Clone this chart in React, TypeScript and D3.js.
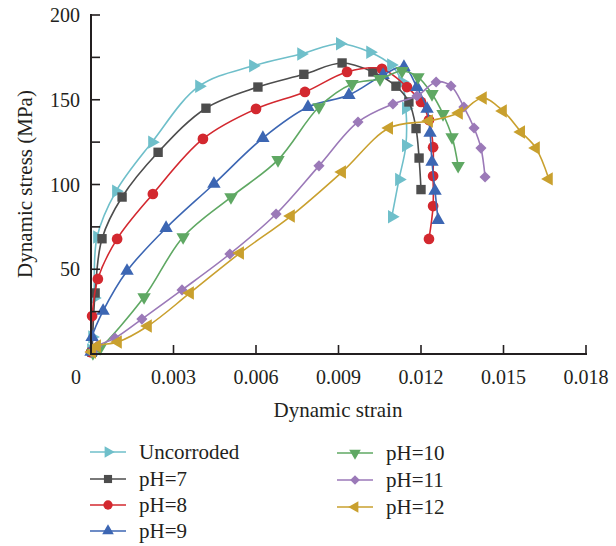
import React from "react";
import * as d3 from "d3";

const seriesNames = ["Uncorroded", "pH=7", "pH=8", "pH=9", "pH=10", "pH=11", "pH=12"];
const seriesColors = ["#6fbfca", "#4d4d4d", "#d3282f", "#3c66b3", "#5fa863", "#9b79b8", "#c9a02e"];

const uncorrodedX = [0, 0.00004, 0.00011, 0.00022, 0.00091, 0.00222, 0.00393, 0.00589, 0.00764, 0.00905, 0.01015, 0.01091, 0.01131, 0.01145, 0.01145, 0.0112, 0.01094];
const uncorrodedY = [2.4, 10, 33, 69, 96, 125, 158, 170, 177, 183, 178, 170.5, 160.5, 145, 123, 103, 81];

const ph7X = [0.00004, 0.00015, 0.0004, 0.00113, 0.00244, 0.00418, 0.00607, 0.00774, 0.00913, 0.01025, 0.01109, 0.01156, 0.01182, 0.01193, 0.012];
const ph7Y = [1, 36, 68, 92.6, 119, 145, 157.5, 165, 171.7, 166.4, 158, 148.7, 133, 115.6, 97];

const ph8X = [0, 0.00004, 0.00025, 0.00095, 0.00225, 0.00407, 0.006, 0.00778, 0.00931, 0.01058, 0.01149, 0.012, 0.01229, 0.01244, 0.01244, 0.01244, 0.01229];
const ph8Y = [1, 22.4, 44.3, 67.9, 94.4, 126.9, 144.6, 154.6, 166.4, 168.2, 157.5, 148.7, 138, 122, 105, 87.3, 67.9];

const ph9X = [0, 0.00004, 0.00044, 0.00131, 0.00273, 0.00447, 0.00625, 0.00789, 0.00938, 0.01062, 0.01138, 0.01185, 0.01222, 0.01233, 0.0124, 0.01251, 0.01262];
const ph9Y = [1.2, 10, 25.4, 49, 74.3, 100.3, 127.4, 145.7, 152.8, 164.6, 169.3, 157.5, 144.6, 130.4, 113.3, 96.2, 79];

const ph10X = [0.00007, 0.00033, 0.00193, 0.00335, 0.00509, 0.0068, 0.00829, 0.00949, 0.01051, 0.01131, 0.01189, 0.0124, 0.0128, 0.01313, 0.01335];
const ph10Y = [0.6, 3.5, 33.6, 69, 92.6, 114.5, 145.7, 159.3, 162.3, 167, 163.4, 153.4, 141.6, 128, 111];

const ph11X = [0.00004, 0.00022, 0.00087, 0.00185, 0.00331, 0.00505, 0.00673, 0.00829, 0.00971, 0.01098, 0.01185, 0.01255, 0.01309, 0.01356, 0.01393, 0.01418, 0.01433];
const ph11Y = [1.2, 4.7, 9.4, 20.6, 37.8, 59, 82.6, 111, 136.9, 147.5, 152.2, 160.5, 158.1, 145.7, 133.3, 121.5, 104.4];

const ph12X = [0.00004, 0.00022, 0.00098, 0.00207, 0.0036, 0.00542, 0.00727, 0.00913, 0.01084, 0.01229, 0.01338, 0.01425, 0.01498, 0.01564, 0.01618, 0.01665];
const ph12Y = [1.2, 4.7, 7.1, 16.5, 36, 59.6, 81.4, 107.4, 133.3, 137.5, 142.2, 151, 143.4, 131, 121.5, 103.3];

const xTicks = [0.003, 0.006, 0.009, 0.012, 0.015, 0.018];
const xTickLabels = ["0.003", "0.006", "0.009", "0.012", "0.015", "0.018"];
const yTicks = [25, 50, 75, 100, 125, 150, 175, 200];
const yLabelTicks = [50, 100, 150, 200];

const allX = [uncorrodedX, ph7X, ph8X, ph9X, ph10X, ph11X, ph12X];
const allY = [uncorrodedY, ph7Y, ph8Y, ph9Y, ph10Y, ph11Y, ph12Y];

// marker kinds: triangle right, square, circle, triangle up, triangle down, diamond, triangle left
const markerKinds = ["tri", "square", "circle", "tri", "tri", "diamond", "tri"];
const markerRot = [90, 0, 0, 0, 180, 45, -90];

const FONT = "'Liberation Serif', 'DejaVu Serif', serif";
const INK = "#231f20";

function markerPath(kind: string, big: boolean) {
  const k = big ? 1 : 0.75;
  if (kind === "tri") return d3.symbol(d3.symbolTriangle, 78 * k)()!;
  if (kind === "square") return d3.symbol(d3.symbolSquare, 88 * k)()!;
  if (kind === "circle") return d3.symbol(d3.symbolCircle, 90 * k)()!;
  return d3.symbol(d3.symbolSquare, 62 * k)()!;
}

export default function App() {
  const x = d3.scaleLinear().domain([0, 0.018]).range([91, 586]);
  const y = d3.scaleLinear().domain([0, 200]).range([354, 15]);
  const line = d3
    .line<[number, number]>()
    .x((d) => x(d[0]))
    .y((d) => y(d[1]))
    .curve(d3.curveCatmullRom.alpha(0.5));

  const legendPos = [
    { lx: 90, tx: 139, cy: 452 },
    { lx: 90, tx: 139, cy: 479 },
    { lx: 90, tx: 139, cy: 505 },
    { lx: 90, tx: 139, cy: 531 },
    { lx: 337, tx: 386, cy: 453 },
    { lx: 337, tx: 386, cy: 480 },
    { lx: 337, tx: 386, cy: 507 },
  ];

  return (
    <svg width={616} height={546} style={{ position: "absolute", left: 0, top: 0, background: "#fff" }}>
      <rect width={616} height={546} fill="#fff" />
      {seriesNames.map((name, si) => {
        const pts: [number, number][] = allX[si].map((v, i) => [v, allY[si][i]]);
        const mp = markerPath(markerKinds[si], true);
        return (
          <g key={name}>
            <path d={line(pts)!} fill="none" stroke={seriesColors[si]} strokeWidth={1.6} />
            {pts.map((p, i) => (
              <path
                key={i}
                d={mp}
                fill={seriesColors[si]}
                transform={`translate(${x(p[0])},${y(p[1])}) rotate(${markerRot[si]})`}
              />
            ))}
          </g>
        );
      })}
      {/* axes */}
      <line x1={91} y1={14} x2={91} y2={354} stroke={INK} strokeWidth={2} />
      <line x1={90} y1={354} x2={x(0.018) + 1} y2={354} stroke={INK} strokeWidth={2} />
      {yTicks.map((t) => (
        <line key={t} x1={91} x2={100} y1={y(t)} y2={y(t)} stroke={INK} strokeWidth={1.6} />
      ))}
      {xTicks.map((t) => (
        <line key={t} x1={x(t)} x2={x(t)} y1={354} y2={345} stroke={INK} strokeWidth={1.6} />
      ))}
      {yLabelTicks.map((t) => (
        <text key={t} x={80} y={y(t)} dy="0.35em" textAnchor="end" fontFamily={FONT} fontSize={20} fill={INK}>
          {t}
        </text>
      ))}
      <text x={76} y={377} dy="0.35em" textAnchor="middle" fontFamily={FONT} fontSize={20} fill={INK}>
        0
      </text>
      {xTicks.map((t, i) => (
        <text key={t} x={x(t)} y={377} dy="0.35em" textAnchor="middle" fontFamily={FONT} fontSize={20} fill={INK}>
          {xTickLabels[i]}
        </text>
      ))}
      <text x={338} y={410} dy="0.35em" textAnchor="middle" fontFamily={FONT} fontSize={21} fill={INK}>
        Dynamic strain
      </text>
      <text
        transform={`translate(25,184) rotate(-90)`}
        dy="0.35em"
        textAnchor="middle"
        fontFamily={FONT}
        fontSize={21}
        fill={INK}
      >
        Dynamic stress (MPa)
      </text>
      {/* legend */}
      {seriesNames.map((name, si) => {
        const lp = legendPos[si];
        return (
          <g key={"lg" + name}>
            <line x1={lp.lx} x2={lp.lx + 36} y1={lp.cy} y2={lp.cy} stroke={seriesColors[si]} strokeWidth={1.6} />
            <path
              d={markerPath(markerKinds[si], false)}
              fill={seriesColors[si]}
              transform={`translate(${lp.lx + 18},${lp.cy}) rotate(${markerRot[si]})`}
            />
            <text x={lp.tx} y={lp.cy} dy="0.33em" fontFamily={FONT} fontSize={21} fill={INK}>
              {name}
            </text>
          </g>
        );
      })}
    </svg>
  );
}
